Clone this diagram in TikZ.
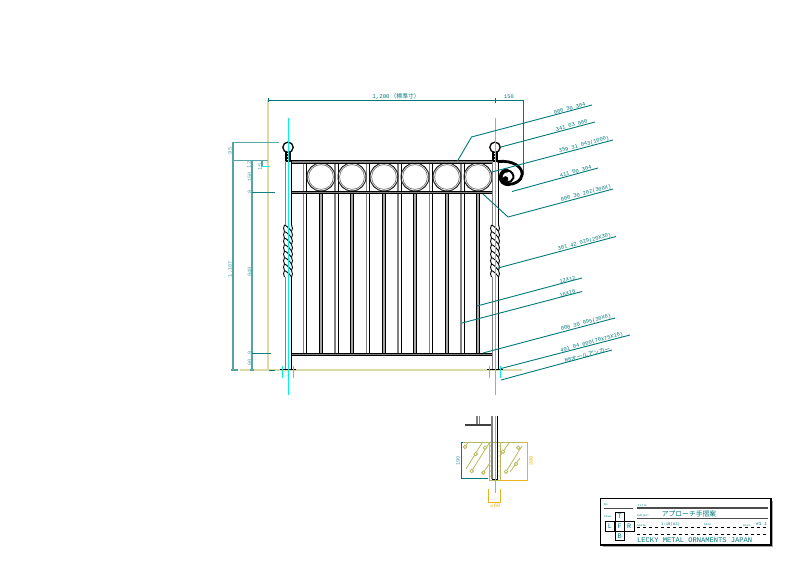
\documentclass[tikz,border=0pt]{standalone}
\usepackage{fontspec}
\setmainfont{Liberation Mono}
\newfontfamily\jpfont{Noto Sans CJK JP}
\definecolor{dimteal}{RGB}{0,120,120}
\definecolor{lightteal}{RGB}{85,165,165}
\definecolor{olive}{RGB}{220,218,165}
\definecolor{concrete}{RGB}{185,185,95}
\definecolor{aqua}{RGB}{0,240,240}
\definecolor{gold}{RGB}{235,180,30}
\tikzset{
  dimline/.style={dimteal,line width=0.9pt},
  dimpale/.style={lightteal,line width=1.3pt},
  groundline/.style={olive,line width=1.4pt},
  centerline/.style={aqua,line width=1pt},
  steel/.style={black,line width=0.7pt},
  railbar/.style={draw=black,line width=0.7pt,fill=gray},
  dimlabel/.style={font=\fontsize{5.4}{6}\selectfont,text=dimteal,inner sep=0pt},
  leaderlabel/.style={font=\fontsize{5.4}{6}\selectfont,text=dimteal,inner sep=0pt,rotate=15,anchor=south east},
  tinylabel/.style={font=\fontsize{2.8}{3}\selectfont,text=dimteal,inner sep=0pt},
  blocklabel/.style={font=\fontsize{7.1}{8}\selectfont,text=dimteal,inner sep=0pt},
  viewcell/.style={draw=black,line width=0.7pt,minimum width=9.5pt,minimum height=9.5pt,inner sep=0pt,font=\fontsize{6.8}{8}\selectfont,text=dimteal},
}
\begin{document}
\begin{tikzpicture}[x=1pt,y=-1pt]
\useasboundingbox (0,0) rectangle (794,561);

% ground and extension lines
\draw[groundline] (240,370) -- (522,370);
\draw[groundline] (268,100) -- (268,370);
\draw[dimline] (268,100) -- (523,100) -- (523,175);
\draw[dimline] (268,98) -- (268,102);
\draw[dimline] (495,98) -- (495,103);
\node[dimlabel,font=\fontsize{5.8}{6}\selectfont] (lblwidth) at (396,97) {1,200\,{\jpfont（標準寸）}};
\node[dimlabel] (lblside) at (509,97) {150};

% left dimensions
\draw[dimpale] (279,142.5) -- (233,142.5) -- (233,370);
\draw[dimpale] (233,160.7) -- (268,160.7);
\draw[dimpale] (252,160.7) -- (252,370);
\draw[dimpale,dimteal!80!lightteal] (252,192.5) -- (275,192.5);
\draw[dimpale,dimteal!80!lightteal] (252,353.5) -- (271,353.5);
\draw[dimpale] (231,370) -- (238,370);
\draw[dimpale] (250,370) -- (254,370);
\draw[dimline] (269,370) -- (275,370);
\draw[dimpale] (262,160.7) -- (262,166.5);
\draw[centerline] (261,166.5) -- (270,166.5);
\foreach \lbl/\x/\y [count=\i] in {95/230/151, {1,107}/230.5/269, 12/249/165, 150/249.5/177, 8/249.5/192, 848/249.5/272, 8/249.5/353, 60/249.5/362, 15/260/167}
  \node[dimlabel,rotate=90,text=lightteal] (dimv\i) at (\x,\y) {\lbl};

% rails
\foreach \x in {305,336.5,368,399.5,431,462.5}{
  \draw[gray,line width=1.1pt] (\x-1.5,163) -- (\x-1.5,353);
  \draw[steel] (\x+1.5,163) -- (\x+1.5,353);
}
\foreach \x in {321,352,384,415,447,478}{
  \draw[steel,fill=gray!70] (\x-1.7,193) rectangle (\x+1.7,353);
  \draw[black!85,line width=1pt] (\x,177) circle (14);
  \draw[black!60,line width=0.6pt] (\x,177) circle (12.4);
}
\draw[railbar] (285,160.5) rectangle (498,163);
\draw[railbar] (291,191.3) rectangle (492,193.2);
\draw[railbar] (291,353) rectangle (492,355);

% posts
\foreach \x in {288,495}{
  \draw[steel,fill=white] (\x-3,161) rectangle (\x+3,369);
  \draw[gray,line width=1.5pt] (\x-2.6,161) -- (\x-2.6,369);
  \draw[black,line width=1.3pt] (\x,147.3) circle (5.2);
  \draw[black,line width=1.5pt] (\x-2.2,152) -- (\x-2.2,160.5);
  \draw[black,line width=1.5pt] (\x+2.2,152) -- (\x+2.2,160.5);
  \draw[black,line width=1.5pt] (\x-3,155) -- (\x+3,155);
  \draw[black,line width=1.5pt] (\x-3,158) -- (\x+3,158);
  \draw[black,line width=1pt] (\x-8,369.3) -- (\x+8,369.3);
  % twisted part of the post
  \fill[white] (\x-3.8,225) rectangle (\x+3.8,277);
  \foreach \t in {225,231.5,...,270.5}{
    \draw[black,line width=0.9pt] (\x-3.5,\t) .. controls (\x-1,\t+1) and (\x+2,\t+4) .. (\x+3.5,\t+6.5);
    \draw[black,line width=0.9pt] (\x-3.5,\t) .. controls (\x-4.8,\t+2) and (\x-4.8,\t+4.5) .. (\x-3.5,\t+6.5);
    \draw[black,line width=0.9pt] (\x+3.5,\t) .. controls (\x+4.8,\t+2) and (\x+4.8,\t+4.5) .. (\x+3.5,\t+6.5);
  }
  \draw[centerline] (\x,118) -- (\x,395);
  \draw[centerline] (\x-5.8,366) -- (\x-5.8,378);
  \draw[centerline] (\x+5.8,366) -- (\x+5.8,378);
}

% end scroll
\draw[black,line width=2.8pt,line cap=round] (498,161.5)
  .. controls (513,160) and (523,167) .. (522,175)
  .. controls (521.5,181) and (514,184.5) .. (509,184.3);
\draw[black,line width=3.8pt,line cap=round] (509,184.3)
  .. controls (504,184.3) and (500.5,181.5) .. (500.7,177)
  .. controls (501,172.5) and (504,170.3) .. (507.5,170.5);
\draw[black,line width=2pt,line cap=round] (507.5,170.5)
  .. controls (511.5,170.8) and (514,174.5) .. (513.3,178)
  .. controls (512.7,181) and (509.5,182.8) .. (506.5,182.3);
\fill[black] (505.5,179) circle (2.8);

% leaders
\draw[dimline] (457.5,161) -- (471.5,137) -- (592,105);
\draw[dimline] (501,147) -- (595,122);
\draw[dimline] (492,172) -- (613,140);
\draw[dimline] (512,191.5) -- (598,168);
\draw[dimline] (483,194) -- (508,217) -- (613,189);
\draw[dimline] (498,268) -- (616,236.5);
\draw[dimline] (477,306) -- (582,278);
\draw[dimline] (462,323) -- (582,291.5);
\draw[dimline] (483,353) -- (615,318);
\draw[dimline] (501,368.5) -- (630,335);
\draw[dimline] (501,380) -- (612,350);
\node[leaderlabel] (lbltop) at (586,106) {000 30 304};
\node[leaderlabel] (lblball) at (588,123) {341 03 000};
\node[leaderlabel] (lblrail) at (610,140.5) {359 31 043(1000)};
\node[leaderlabel] (lblscroll) at (592,169) {411 00 304};
\node[leaderlabel] (lblmid) at (612,189) {000 30 202(300X)};
\node[leaderlabel] (lbltwist) at (612,237.5) {301 42 029(20X30)};
\node[leaderlabel] (lblround) at (576,279.5) {12X12};
\node[leaderlabel] (lblsquare) at (576,293) {16X16};
\node[leaderlabel] (lblbottom) at (612,318.5) {000 30 095(30X6)};
\node[leaderlabel] (lblplate) at (624,336.5) {491 04 000(70X75X16)};
\node[leaderlabel] (lblanchor) at (611,351) {M8{\jpfont\fontsize{5.8}{6}\selectfont オールアンカー}};

% foundation detail
\draw[concrete,line width=1pt] (462,442.3) -- (523,442.3);
\draw[concrete,line width=1pt] (489,442.3) rectangle (500,480);
\foreach \y in {446,451,...,476}{
  \fill[concrete] (490.5,\y) circle (0.6);
  \fill[concrete] (499,\y) circle (0.6);
}
\foreach \xa/\ya/\xb/\yb in {465/447/468/442.5, 466/469/482/443, 471.7/471/489/443.3, 483/472.7/490/463, 506/471.7/522/446, 500/456/509/443, 510/472/520/458}
  \draw[concrete,line width=0.8pt] (\xa,\ya) -- (\xb,\yb);
\foreach \x/\y in {465/447, 475.7/454, 485/447.7, 471.7/471, 483.3/472.7, 506/471.7, 518.3/447.7, 503/451.7, 516/464}
  \draw[concrete,line width=0.8pt,fill=white] (\x,\y) circle (1.8);
\draw[black!75,line width=1.6pt] (465,425) -- (492,425);
\draw[gray,line width=1.2pt] (477,416) -- (477,424);
\draw[gray,line width=1.2pt] (479.5,416) -- (479.5,424);
\draw[gray,line width=1.6pt] (492.2,416) -- (492.2,479);
\draw[black,line width=0.8pt] (497.7,416) -- (497.7,479) -- (492,479);
\draw[centerline] (495,416) -- (495,493);
\draw[dimline] (463,442.3) -- (461,442.3) -- (461,478) -- (488,478);
\node[dimlabel,rotate=90,text=lightteal] (lblhole) at (458,461) {190};
\draw[gold,line width=0.9pt] (523,442.3) -- (527,442.3) -- (527,480) -- (500,480);
\node[dimlabel,rotate=90,text=gold] (lbldepth) at (531,461) {200};
\draw[gold,line width=0.9pt] (488.5,489) -- (488.5,502) -- (500.7,502) -- (500.7,489);
\node[dimlabel,text=gold] (lbldia) at (495,506) {$\phi$60};

% title block
\fill[black!35] (602.5,500.5) rectangle (773,547);
\draw[black,line width=1.1pt,fill=white] (600.5,498.5) rectangle (771,545);
\draw[black!70,line width=1.5pt] (604,508.3) -- (633,508.3);
\draw[black!70,line width=1.5pt] (637,508) -- (768,508);
\draw[black!70,line width=1.5pt] (637,518.3) -- (768,518.3);
\draw[black,dashed,line width=0.7pt] (637,527) -- (768,527);
\draw[black,dashed,line width=0.7pt] (637,534.5) -- (768,534.5);
\node[viewcell] (viewT) at (619.7,516.7) {T};
\node[viewcell] (viewF) at (619.7,526.5) {F};
\node[viewcell] (viewL) at (610,526.5) {L};
\node[viewcell] (viewR) at (629.2,526.5) {R};
\node[viewcell] (viewB) at (619.7,536) {B};
\node[tinylabel,anchor=west] (lblno) at (604,505) {No};
\node[tinylabel,anchor=west] (lbltitle) at (638,505) {Title};
\node[tinylabel,anchor=west] (lblview) at (604,516) {View};
\node[tinylabel,anchor=west] (lblsubject) at (637,515.5) {Subject};
\node[tinylabel,anchor=west] (lblscale) at (637,525) {Scale};
\node[tinylabel,anchor=west] (lbldate) at (704,525) {Date};
\node[tinylabel,anchor=west] (lblsize) at (743,525) {Size};
\node[blocklabel,anchor=west,font=\fontsize{3.9}{4}\selectfont] (lblratio) at (661,524) {1:10(A3)};
\node[blocklabel,anchor=west,font=\fontsize{4.5}{5}\selectfont] (lblsheet) at (756,524) {\#1 1};
\node[blocklabel,font=\fontsize{6.8}{8}\selectfont] (lblname) at (689,514) {\jpfont アプローチ手摺案};
\node[blocklabel,anchor=west] (lblcompany) at (637,540.5) {LECKY METAL ORNAMENTS JAPAN};
\end{tikzpicture}
\end{document}
